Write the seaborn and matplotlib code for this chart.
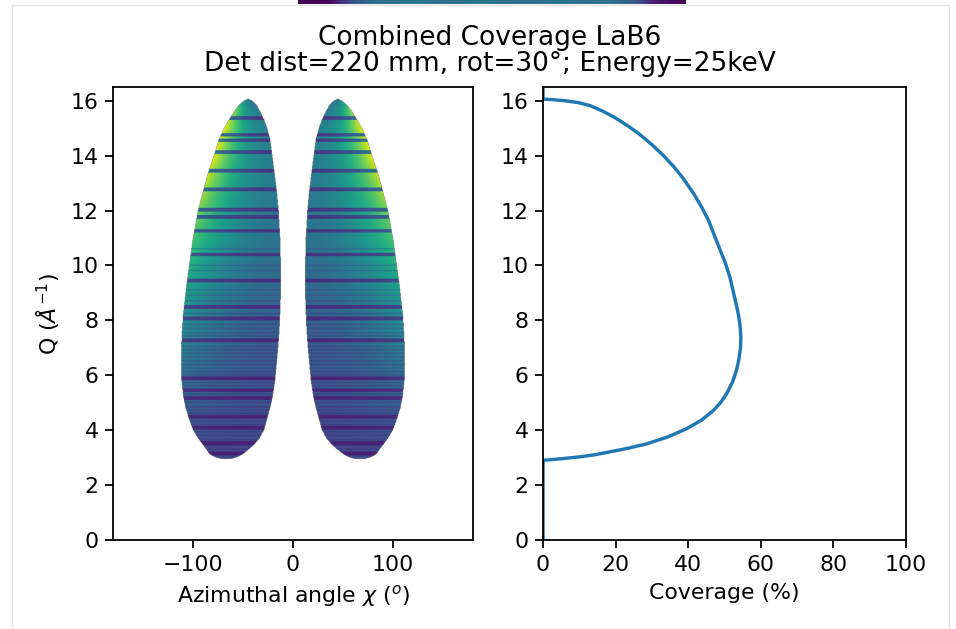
import matplotlib
matplotlib.use("Agg")
import matplotlib.pyplot as plt
from matplotlib.lines import Line2D
import numpy as np
import seaborn as sns

# lobe outline of the left lobe (right lobe is its mirror)
lobe_q = [2.94, 2.96, 3.0, 3.05, 3.12, 3.2, 3.33, 3.5, 3.7, 4.0, 4.4, 4.8, 5.2,
          5.8, 6.4, 7.0, 7.6, 8.2, 9.3, 10.9, 12.0, 12.7, 13.3, 13.9, 14.6,
          15.0, 15.3, 15.6, 15.8, 15.93, 16.0, 16.06]
lobe_outer = [-67, -73, -77, -80.5, -83, -85, -87.5, -91, -95, -100, -104,
              -107.5, -109.7, -111.5, -112, -111.8, -111, -110, -106.5, -100.5,
              -95, -90, -85.5, -80, -74, -69, -64, -59, -55, -51, -48.5, -45]
lobe_inner = [-67, -61, -57, -53.5, -50.5, -47.5, -43, -38, -33.5, -29, -26,
              -23, -20.5, -18, -16.5, -15, -13.7, -13, -12, -12.8, -14.5,
              -16.3, -18.3, -20.5, -23, -26, -29, -33, -36, -39, -41.5, -45]

# colour level (0-1 of viridis) in the middle and at the outer edge of a lobe
level_q = [3, 4, 5, 6, 7, 8, 9, 10, 11, 12, 13, 14, 15, 15.7, 16.06]
level_mid = [0.22, 0.24, 0.26, 0.27, 0.29, 0.31, 0.34, 0.36, 0.38, 0.40,
             0.42, 0.43, 0.44, 0.42, 0.38]
level_edge = [0.22, 0.26, 0.31, 0.37, 0.44, 0.50, 0.56, 0.63, 0.71, 0.80,
              0.89, 0.96, 0.97, 0.80, 0.45]

# dark horizontal bands (Q positions)
strong_bands = [15.37, 14.75, 14.55, 14.12, 13.45, 12.76, 12.02, 11.76, 11.25,
                10.39, 9.45, 8.48, 8.06, 7.27, 5.88, 5.45, 5.15, 4.48, 4.07,
                3.52, 3.15]
weak_bands = [3.3, 3.42, 3.65, 3.8, 3.92, 4.2, 4.32, 4.6, 4.72, 4.85, 5.0, 5.3,
              5.6, 5.72, 6.0, 6.12, 6.25, 6.38, 6.52, 6.65, 6.8, 6.92, 7.05,
              7.42, 7.55, 7.7, 7.85, 8.25, 8.7, 8.9, 9.1, 9.8, 10.0, 10.6]

# coverage curve (right panel)
cov_q = [0.0, 2.9, 2.93, 2.96, 3.0, 3.03, 3.1, 3.2, 3.33, 3.5, 3.76, 4.05,
         4.36, 4.7, 5.0, 5.33, 5.75, 6.18, 6.6, 7.0, 7.39, 7.8, 8.24, 8.6, 9.0,
         9.57, 10.1, 10.6, 11.1, 11.64, 12.1, 12.6, 13.21, 13.6, 14.0, 14.4,
         14.79, 15.1, 15.4, 15.63, 15.82, 15.93, 16.0, 16.04, 16.06, 17.0]
cov_pct = [0, 0, 2.5, 5, 8, 10.2, 14, 18, 23, 28.5, 34.5, 39.5, 43.6, 46.8,
           48.9, 50.6, 52.2, 53.3, 54.0, 54.4, 54.5, 54.3, 53.8, 53.2, 52.5,
           51.5, 50.2, 48.7, 47.2, 45.6, 43.8, 41.6, 38.4, 36.0, 33.2, 30.0,
           26.5, 23.2, 19.6, 16.3, 13.0, 9.8, 6.0, 2.5, 0, 0]

# bottom edge of the previous notebook image peeking in at the top
top_strip = [0.0, 0.02, 0.25, 0.36, 0.38, 0.40, 0.37, 0.38, 0.40, 0.38, 0.36,
             0.38, 0.39, 0.37, 0.38, 0.30, 0.08, 0.02]


def coverage_image():
    chi = np.arange(-180, 180.25, 0.5)
    q = np.arange(0, 16.5, 0.02)
    img = np.full((q.size, chi.size), np.nan)
    a = np.abs(chi)
    for i, qq in enumerate(q):
        if qq < lobe_q[0] or qq > lobe_q[-1]:
            continue
        outer = np.interp(qq, lobe_q, lobe_outer)
        inner = np.interp(qq, lobe_q, lobe_inner)
        mid = np.interp(qq, level_q, level_mid)
        edge = np.interp(qq, level_q, level_edge)
        factor = 1.0
        for b in strong_bands:
            if abs(qq - b) < 0.07:
                factor = min(factor, 0.4)
        for b in weak_bands:
            if abs(qq - b) < 0.03:
                factor = min(factor, 0.8)
        lo, hi = -inner, -outer
        inside = (a >= lo) & (a <= hi)
        t = np.zeros_like(a)
        if hi > lo:
            t = (a - lo) / (hi - lo)
        val = (mid + (edge - mid) * np.clip(t, 0, 1) ** 2) * factor
        img[i, inside] = val[inside]
    return img


def main():
    sns.set_theme(style="ticks", rc={
        "axes.edgecolor": "black", "axes.linewidth": 0.9,
        "xtick.color": "black", "ytick.color": "black",
        "xtick.major.size": 3.8, "ytick.major.size": 3.8,
        "xtick.major.width": 0.9, "ytick.major.width": 0.9,
        "axes.labelcolor": "black", "text.color": "black",
        "font.size": 11, "axes.labelsize": 11,
        "xtick.labelsize": 11, "ytick.labelsize": 11,
    })
    plt.rcParams["font.family"] = ["DejaVu Sans"]
    plt.rcParams["mathtext.fontset"] = "dejavusans"

    W, H = 956, 629
    fig = plt.figure(figsize=(W / 144, H / 144), dpi=144)
    fig.patch.set_facecolor("white")

    ax1 = fig.add_axes([113 / W, 1 - 540 / H, 360 / W, 453 / H])
    ax2 = fig.add_axes([543 / W, 1 - 540 / H, 363 / W, 453 / H])

    ax1.imshow(coverage_image(), cmap="viridis", vmin=0, vmax=1,
               origin="lower", extent=(-180, 180, 0, 16.5), aspect="auto",
               interpolation="antialiased")
    ax1.set_xlim(-180, 180)
    ax1.set_ylim(0, 16.5)
    ax1.set_xticks([-100, 0, 100])
    ax1.set_yticks(range(0, 17, 2))
    ax1.set_xlabel(r"Azimuthal angle $\chi$ ($^o$)")
    ax1.set_ylabel(r"Q ($\AA^{-1}$)")

    sns.lineplot(x=cov_pct, y=cov_q, orient="y", estimator=None, sort=False,
                 color="#1f77b4", linewidth=1.7, ax=ax2)
    ax2.set_xlim(0, 100)
    ax2.set_ylim(0, 16.5)
    ax2.set_yticks(range(0, 17, 2))
    ax2.set_xlabel("Coverage (%)")
    ax2.set_ylabel("")

    fig.suptitle("Combined Coverage LaB6\nDet dist=220 mm, rot=30°; Energy=25keV",
                 x=0.512, y=1 - 25 / H, va="top", fontsize=13.2, linespacing=1.02)

    # notebook frame lines
    gray = "#e3e3e3"
    fig.add_artist(Line2D([12 / W, 12 / W], [0, 1 - 4.5 / H], color=gray, lw=0.7))
    fig.add_artist(Line2D([949 / W, 949 / W], [0, 1 - 4.5 / H], color=gray, lw=0.7))
    fig.add_artist(Line2D([12 / W, 949 / W], [1 - 4.5 / H, 1 - 4.5 / H], color=gray, lw=0.7))

    strip = fig.add_axes([298 / W, 1 - 4 / H, 388 / W, 4 / H])
    strip.imshow([top_strip], cmap="viridis", vmin=0, vmax=1, aspect="auto",
                 interpolation="bilinear")
    strip.axis("off")

    fig.savefig("out.png", dpi=144)
    plt.close(fig)


if __name__ == "__main__":
    main()
